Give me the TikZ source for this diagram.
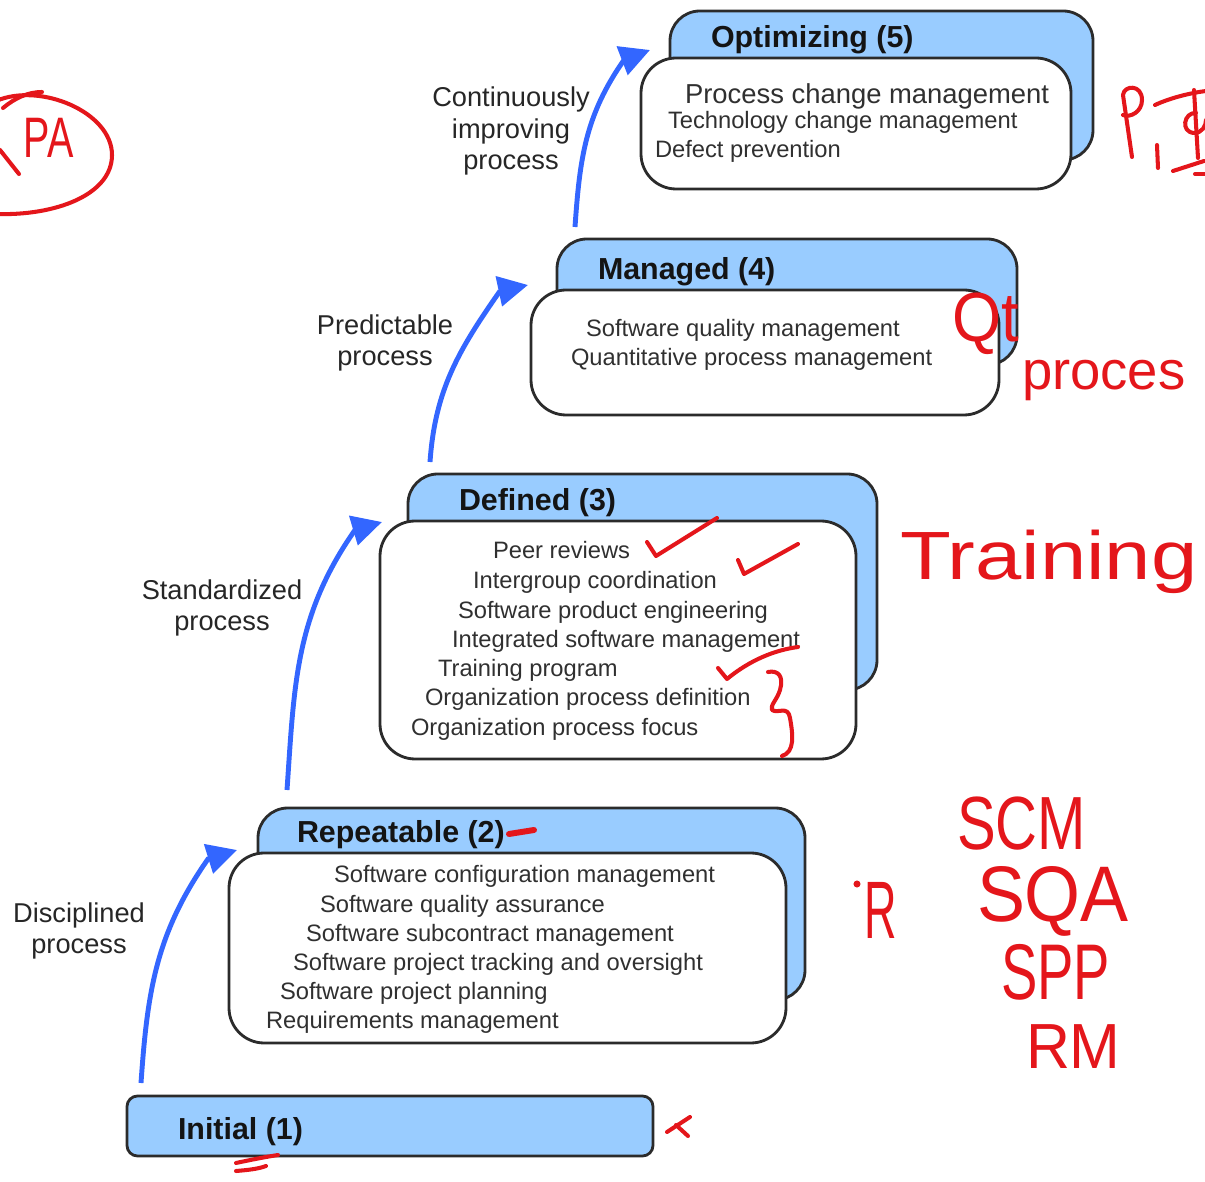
\documentclass[tikz,border=0pt]{standalone}
\usepackage{fontspec}
\usepackage{graphicx}
\setmainfont{Liberation Sans}
\usetikzlibrary{arrows.meta,fit}

\definecolor{levelblue}{HTML}{99CCFF}
\definecolor{arrowblue}{HTML}{3366FF}
\definecolor{edgegray}{HTML}{2B2B2B}
\definecolor{itemgray}{HTML}{303030}
\definecolor{inkred}{HTML}{E4161B}

\tikzset{
  every node/.style={inner sep=0pt, outer sep=0pt},
  backbox/.style={draw=edgegray, line width=1.6pt, fill=levelblue, rounded corners=17pt},
  frontbox/.style={draw=edgegray, line width=1.6pt, fill=white, rounded corners=20pt},
  basebox/.style={draw=edgegray, line width=1.6pt, fill=levelblue, rounded corners=6pt},
  leveltitle/.style={anchor=base west, font=\fontsize{17.3pt}{20pt}\selectfont\bfseries, text=black!92},
  kpaitem/.style={anchor=base west, font=\fontsize{13.5pt}{16pt}\selectfont, text=itemgray},
  kpabig/.style={anchor=base west, font=\fontsize{15.6pt}{18pt}\selectfont, text=itemgray},
  steplabel/.style={align=center, font=\fontsize{15.5pt}{17.8pt}\selectfont, text=black!85},
  climb/.style={draw=arrowblue, line width=2.8pt, -{Triangle[length=17pt,width=17pt]}},
  handline/.style={draw=inkred, line width=2.3pt, line cap=round, line join=round},
  handnote/.style={text=inkred, anchor=base west},
}

\begin{document}
\begin{tikzpicture}[x=0.02cm, y=-0.02cm]
\useasboundingbox (0,0) rectangle (1205,1182);

% ---- Level 5: Optimizing
\node[backbox, fit={(670,11) (1093,160)}] (optback) {};
\node[frontbox, fit={(641,58) (1071,189)}] (optfront) {};
\node[leveltitle] (opttitle) at (711,48) {Optimizing (5)};
\node[kpabig]  (opt1) at (685,104) {Process change management};
\node[kpaitem] (opt2) at (668,129) {Technology change management};
\node[kpaitem] (opt3) at (655,158) {Defect prevention};

% ---- Level 4: Managed
\node[backbox, fit={(557,239) (1017,365)}] (manback) {};
\node[frontbox, fit={(531,290) (999,415)}] (manfront) {};
\node[leveltitle] (mantitle) at (598,280) {Managed (4)};
\node[kpaitem] (man1) at (586,337) {Software quality management};
\node[kpaitem] (man2) at (571,366) {Quantitative process management};

% ---- Level 3: Defined
\node[backbox, fit={(408,474) (877,690)}] (defback) {};
\node[frontbox, fit={(380,521) (856,759)}] (deffront) {};
\node[leveltitle] (deftitle) at (459,511) {Defined (3)};
\node[kpaitem] (def1) at (493,559) {Peer reviews};
\node[kpaitem] (def2) at (473,589) {Intergroup coordination};
\node[kpaitem] (def3) at (458,619) {Software product engineering};
\node[kpaitem] (def4) at (452,648) {Integrated software management};
\node[kpaitem] (def5) at (438,677) {Training program};
\node[kpaitem] (def6) at (425,706) {Organization process definition};
\node[kpaitem] (def7) at (411,736) {Organization process focus};

% ---- Level 2: Repeatable
\node[backbox, fit={(258,808) (805,1000)}] (repback) {};
\node[frontbox, fit={(229,853) (786,1043)}] (repfront) {};
\node[leveltitle] (reptitle) at (297,843) {Repeatable (2)};
\node[kpaitem] (rep1) at (334,883) {Software configuration management};
\node[kpaitem] (rep2) at (320,912) {Software quality assurance};
\node[kpaitem] (rep3) at (306,941) {Software subcontract management};
\node[kpaitem] (rep4) at (293,970) {Software project tracking and oversight};
\node[kpaitem] (rep5) at (280,999) {Software project planning};
\node[kpaitem] (rep6) at (266,1028) {Requirements management};

% ---- Level 1: Initial
\node[basebox, fit={(127,1096) (653,1156)}] (initbox) {};
\node[leveltitle] (inittitle) at (178,1139) {Initial (1)};

% ---- Transitions between levels
\coordinate (c1s) at (141,1083); \coordinate (c1b) at (208,859); \coordinate (c1t) at (237,850);
\coordinate (c2s) at (287,790);  \coordinate (c2b) at (355,530); \coordinate (c2t) at (382,522);
\coordinate (c3s) at (430,462);  \coordinate (c3b) at (500,291); \coordinate (c3t) at (528,285);
\coordinate (c4s) at (575,227);  \coordinate (c4b) at (624,60);  \coordinate (c4t) at (650,50);
\draw[climb] (c1s) to[out=86,in=235] (c1b) -- (c1t);
\draw[climb] (c2s) to[out=86,in=235] (c2b) -- (c2t);
\draw[climb] (c3s) to[out=86,in=235] (c3b) -- (c3t);
\draw[climb] (c4s) to[out=86,in=235] (c4b) -- (c4t);

\node[steplabel] (lab1) at (79,931) {Disciplined\\process};
\node[steplabel] (lab2) at (222,608) {Standardized\\process};
\node[steplabel] (lab3) at (385,343) {Predictable\\process};
\node[steplabel] (lab4) at (511,131) {Continuously\\improving\\process};

% ---- Red handwritten notes
% circled KPA (the K runs off the left edge)
\draw[handline] (0,150) -- (19,174);
\node[handnote, font=\fontsize{25pt}{28pt}\selectfont] (nkpa) at (24,158) {\scalebox{0.9}[1.3]{PA}};
\draw[handline] (-4,101) .. controls (40,82) and (112,112) .. (112,155) .. controls (112,195) and (55,216) .. (-4,214);
\draw[handline] (3,108) .. controls (15,98) and (28,92) .. (42,92);

% P, ... at the right edge
\draw[handline] (1132,157) -- (1123,95) .. controls (1124,85) and (1142,84) .. (1142,100) .. controls (1142,112) and (1130,118) .. (1123,115);
\draw[handline] (1157,145) -- (1158,168);
\draw[handline] (1155,105) .. controls (1170,98) and (1190,93) .. (1206,91);
\draw[handline] (1194,90) -- (1198,158);
\draw[handline] (1196,113) .. controls (1184,112) and (1180,132) .. (1194,133) .. controls (1202,133) and (1206,126) .. (1206,120);
\draw[handline] (1173,171) -- (1204,161);
\draw[handline] (1195,174) -- (1206,174);

% Qt proces
\node[handnote, font=\fontsize{36pt}{40pt}\selectfont] (nqt) at (952,342) {\scalebox{1}[1.1]{Qt}};
\node[handnote, font=\fontsize{31pt}{34pt}\selectfont] (nproc) at (1022,390) {proces};

% Training
\node[handnote, font=\fontsize{37pt}{40pt}\selectfont] (ntrain) at (900,580) {\scalebox{1.28}[1.05]{Training}};

% ticks and brace in the Defined list
\draw[handline] (647,542) -- (656,556) -- (717,518);
\draw[handline] (738,560) -- (744,574) -- (798,544);
\draw[handline] (718,668) -- (727,679) .. controls (750,660) and (775,650) .. (798,647);
\draw[handline] (768,672) .. controls (778,670) and (784,676) .. (780,690) .. controls (777,700) and (770,705) .. (772,710) .. controls (778,714) and (788,705) .. (790,718) .. controls (793,735) and (795,752) .. (782,756);

% Repeatable notes
\draw[handline, line width=3.4pt] (509,834) -- (534,830);
\fill[inkred] (857,884) circle (2pt);
\node[handnote, font=\fontsize{32pt}{36pt}\selectfont] (nr) at (864,938) {\scalebox{0.8}[1.45]{R}};
\node[handnote, font=\fontsize{33pt}{36pt}\selectfont] (nscm) at (957,849) {\scalebox{1}[1.3]{SCM}};
\node[handnote, font=\fontsize{39pt}{42pt}\selectfont] (nsqa) at (977,922) {\scalebox{1.05}[1.15]{SQA}};
\node[handnote, font=\fontsize{31pt}{34pt}\selectfont] (nspp) at (1001,999) {\scalebox{1}[1.45]{SPP}};
\node[handnote, font=\fontsize{33pt}{36pt}\selectfont] (nrm) at (1026,1068) {\scalebox{1.05}[1.1]{RM}};

% Initial notes
\draw[handline] (236,1163) .. controls (250,1160) and (265,1157) .. (278,1155);
\draw[handline] (236,1171) .. controls (248,1170) and (258,1169) .. (266,1166);
\draw[handline] (690,1117) -- (667,1132);
\draw[handline] (676,1125) -- (688,1136);
\end{tikzpicture}
\end{document}
